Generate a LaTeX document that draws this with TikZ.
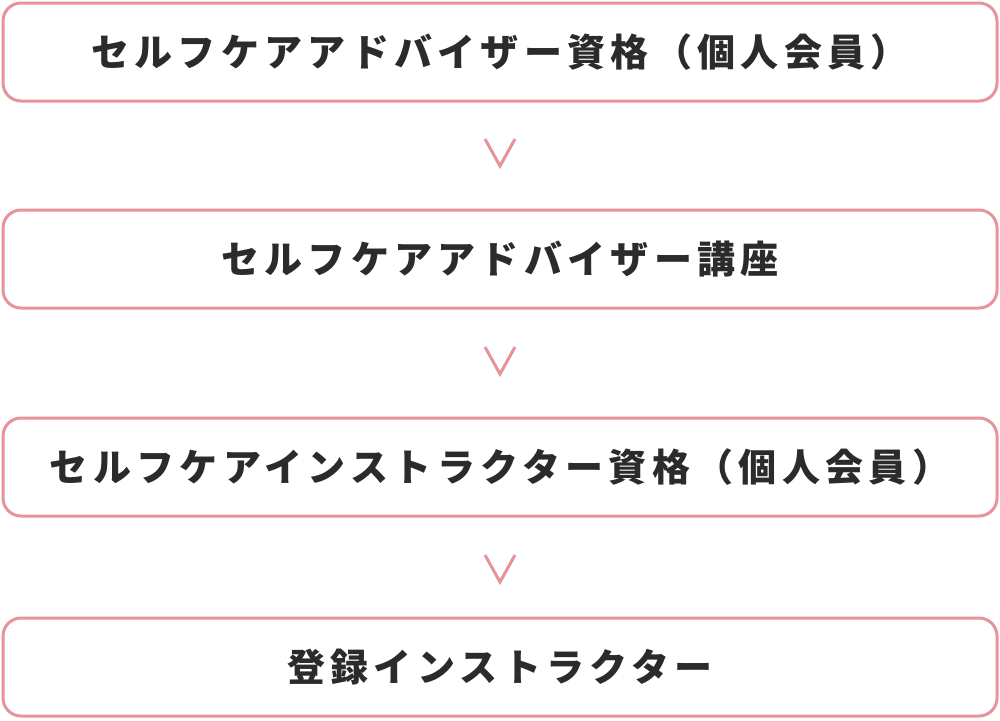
\documentclass[tikz,border=0pt]{standalone}
\usepackage{fontspec}
\newfontfamily\jpfont{Noto Sans CJK JP}[LetterSpace=14]
\usetikzlibrary{positioning}
\definecolor{rosa}{HTML}{E6939A}
\definecolor{ink}{HTML}{2B2B2B}
\tikzset{
	stage/.style={
			draw=rosa, line width=3pt, rounded corners=18pt,
			minimum width=994pt, minimum height=98pt, inner sep=0pt,
			text=ink, font=\jpfont\bfseries\fontsize{38pt}{42pt}\selectfont
		},
	chev/.style={draw=rosa, line width=3pt}
}

\begin{document}
\begin{tikzpicture}[x=1pt,y=-1pt]
			\useasboundingbox (0,0) rectangle (1000,720);

			% Stages
			\node[stage] (adv)  at (500,52)  {セルフケアアドバイザー資格（個人会員）};
			\node[stage] (kouza) at (500,259) {セルフケアアドバイザー講座};
			\node[stage] (inst) at (500,467) {セルフケアインストラクター資格（個人会員）};
			\node[stage] (reg)  at (500,667) {登録インストラクター};

			% Chevrons between stages
			\coordinate (v1) at (500,153);
			\coordinate (v2) at (500,361);
			\coordinate (v3) at (500,569);
			\foreach \v in {v1,v2,v3}
				\draw[chev] ([shift={(-15,-14)}]\v) -- ([shift={(0,13)}]\v) -- ([shift={(15,-14)}]\v);
		\end{tikzpicture}
\end{document}
